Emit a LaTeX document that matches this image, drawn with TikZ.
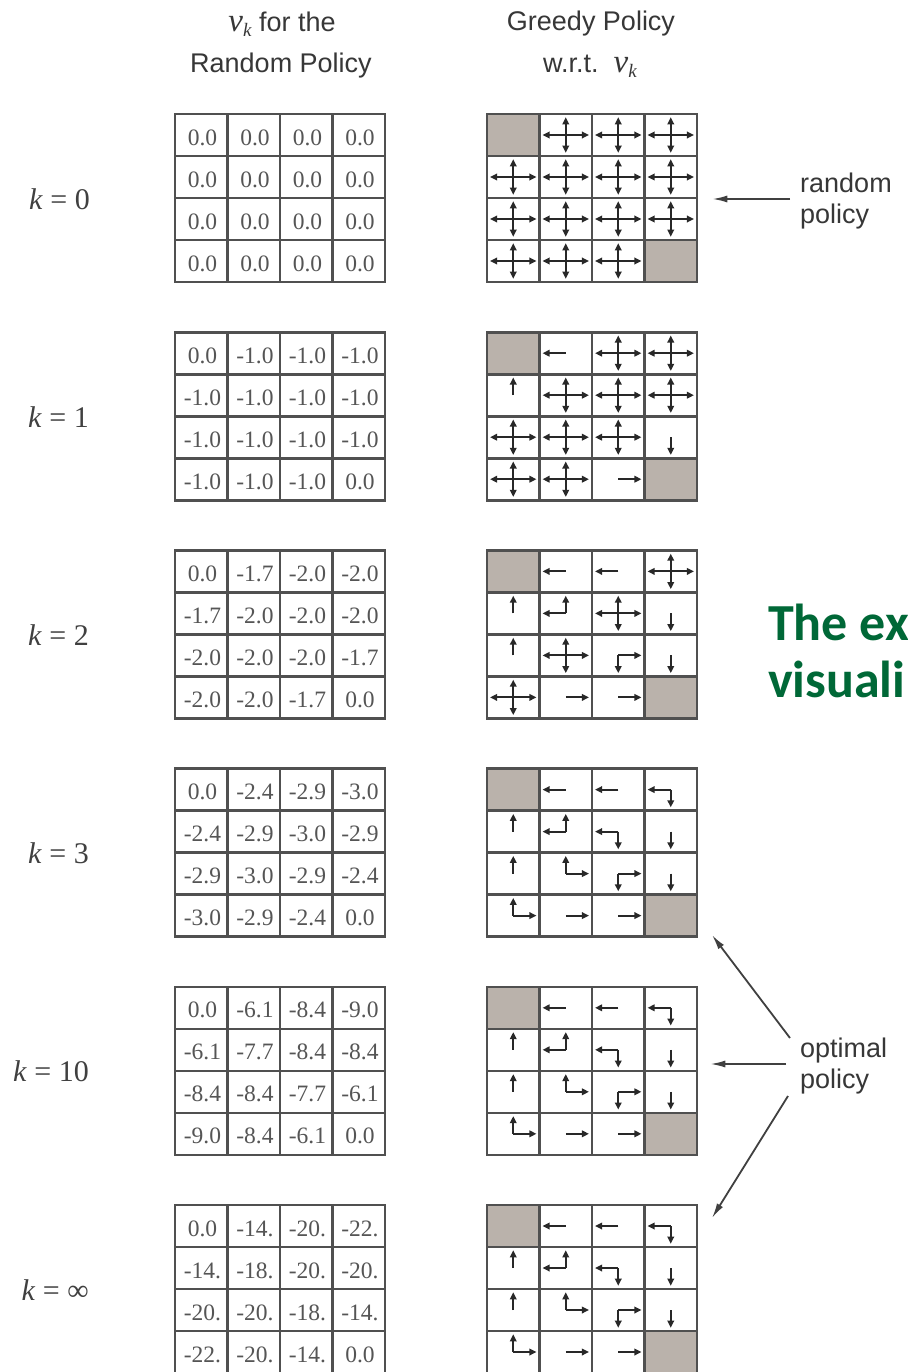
\documentclass[tikz,border=0pt]{standalone}
\usepackage{fontspec}
\setmainfont{Liberation Serif}
\newfontfamily\hvfont{Liberation Sans}
\newfontfamily\grfont{Carlito}
\usetikzlibrary{arrows.meta,calc}

\definecolor{gridc}{RGB}{80,80,80}
\definecolor{shadec}{RGB}{186,178,171}
\definecolor{numc}{RGB}{85,85,85}
\definecolor{txtc}{RGB}{55,55,55}
\definecolor{grnc}{RGB}{0,104,55}
\definecolor{armc}{RGB}{40,40,40}

\def\armsT#1{}
\def\armsl#1{\draw[arm] (#1.center) -- (#1.west);}
\def\armsr#1{\draw[arm] (#1.center) -- (#1.east);}
\def\armsu#1{\draw[arm] (#1.center) -- (#1.north);}
\def\armsd#1{\draw[arm] (#1.center) -- (#1.south);}
\def\armsX#1{\armsl{#1}\armsr{#1}\armsu{#1}\armsd{#1}}
\def\armslu#1{\armsl{#1}\armsu{#1}}
\def\armsld#1{\armsl{#1}\armsd{#1}}
\def\armsur#1{\armsu{#1}\armsr{#1}}
\def\armsrd#1{\armsr{#1}\armsd{#1}}

\def\polA{T,X,X,X,X,X,X,X,X,X,X,X,X,X,X,T}
\def\polB{T,l,X,X,u,X,X,X,X,X,X,d,X,X,r,T}
\def\polC{T,l,l,X,u,lu,X,d,u,X,rd,d,X,r,r,T}
\def\polD{T,l,l,ld,u,lu,ld,d,u,ur,rd,d,ur,r,r,T}

\def\valA{0.0,0.0,0.0,0.0,0.0,0.0,0.0,0.0,0.0,0.0,0.0,0.0,0.0,0.0,0.0,0.0}
\def\valB{0.0,-1.0,-1.0,-1.0,-1.0,-1.0,-1.0,-1.0,-1.0,-1.0,-1.0,-1.0,-1.0,-1.0,-1.0,0.0}
\def\valC{0.0,-1.7,-2.0,-2.0,-1.7,-2.0,-2.0,-2.0,-2.0,-2.0,-2.0,-1.7,-2.0,-2.0,-1.7,0.0}
\def\valD{0.0,-2.4,-2.9,-3.0,-2.4,-2.9,-3.0,-2.9,-2.9,-3.0,-2.9,-2.4,-3.0,-2.9,-2.4,0.0}
\def\valE{0.0,-6.1,-8.4,-9.0,-6.1,-7.7,-8.4,-8.4,-8.4,-8.4,-7.7,-6.1,-9.0,-8.4,-6.1,0.0}
\def\valF{0.0,-14.,-20.,-22.,-14.,-18.,-20.,-20.,-20.,-20.,-18.,-14.,-22.,-20.,-14.,0.0}

\newcommand\vk{{\rmfamily\itshape\fontsize{33}{33}\selectfont v}\raisebox{-5pt}{\rmfamily\itshape\fontsize{19}{19}\selectfont k}}

\tikzset{
  arm/.style={draw=armc, line width=2pt, -{Triangle[length=7pt,width=6.5pt]}},
  pcell/.style={draw=none, inner sep=0pt, minimum width=46pt, minimum height=35pt},
  vcell/.style={inner sep=0pt, font=\fontsize{23.5}{23.5}\selectfont, text=numc},
  gbox/.style={draw=gridc, line width=2.6pt, inner sep=0pt, minimum width=210pt, minimum height=168pt},
  gline/.style={draw=gridc, line width=2.6pt},
  klabel/.style={anchor=east, inner sep=0pt, font=\fontsize{30}{30}\selectfont, text=black!75},
  head/.style={inner sep=0pt, font=\hvfont\fontsize{27}{27}\selectfont, text=txtc},
  side/.style={anchor=west, inner sep=0pt, align=left, font=\hvfont\fontsize{27}{31}\selectfont, text=txtc},
  bigarrow/.style={draw=black!75, line width=1.8pt, -{Latex[length=15pt,width=7pt]}},
  green/.style={anchor=base west, inner sep=0pt, font=\grfont\bfseries\fontsize{52}{52}\selectfont, text=grnc}
}

\begin{document}
\begin{tikzpicture}[x=1pt,y=-1pt]
\useasboundingbox (0,0) rectangle (907,1372);
\fill[white] (0,0) rectangle (907,1372);

% headers
\node[head] (h1) at (282,24) {\vk{} for the};
\node[head] (h2) at (281,66) {Random Policy};
\node[head] (h3) at (591,24) {Greedy Policy};
\node[head] (h4) at (590,66) {w.r.t.\ \ \vk};

% grids
\foreach \g/\P/\V in {0/\polA/\valA, 1/\polB/\valB, 2/\polC/\valC, 3/\polD/\valD, 4/\polD/\valE, 5/\polD/\valF}{
  \pgfmathsetmacro\gtop{114+218.2*\g}
  \edef\Vlist{\V}
  \edef\Plist{\P}
  % value grid
  \node[gbox] (V\g) at (175+105,\gtop+84) {};
  \foreach \j in {1,2,3}{
    \draw[gline] (175+52.5*\j,\gtop) -- ++(0,168);
    \draw[gline] (175,\gtop+42*\j) -- ++(210,0);
  }
  \foreach \val [count=\i from 0] in \Vlist {
    \pgfmathtruncatemacro\rr{\i/4}
    \pgfmathtruncatemacro\cc{\i-4*\rr}
    \node[vcell] (v\g-\rr-\cc) at (175+52.5*\cc+27.5,\gtop+42*\rr+23.5) {\val};
  }
  % policy grid
  \fill[shadec] (487,\gtop) rectangle ++(52.5,42);
  \fill[shadec] (487+157.5,\gtop+126) rectangle ++(52.5,42);
  \node[gbox] (P\g) at (487+105,\gtop+84) {};
  \foreach \j in {1,2,3}{
    \draw[gline] (487+52.5*\j,\gtop) -- ++(0,168);
    \draw[gline] (487,\gtop+42*\j) -- ++(210,0);
  }
  \foreach \code [count=\i from 0] in \Plist {
    \pgfmathtruncatemacro\rr{\i/4}
    \pgfmathtruncatemacro\cc{\i-4*\rr}
    \node[pcell] (p\g-\rr-\cc) at (487+52.5*\cc+26.25,\gtop+42*\rr+21) {};
    \csname arms\code\endcsname{p\g-\rr-\cc}
  }
}

% k labels
\node[klabel] (k0) at (90,199) {\textit{k} = 0};
\node[klabel] (k1) at (89,417) {\textit{k} = 1};
\node[klabel] (k2) at (89,635) {\textit{k} = 2};
\node[klabel] (k3) at (89,853) {\textit{k} = 3};
\node[klabel] (k4) at (89,1071) {\textit{k} = 10};
\node[klabel] (k5) at (89,1290) {\textit{k} = ∞};

% side labels and arrows
\node[side] (rp) at (800,201) {random\\policy};
\coordinate (rpA) at (790,199);
\draw[bigarrow, shorten >=14pt] (rpA) -- (P0.east |- rpA);

\node[side] (op) at (800,1066) {optimal\\policy};
\coordinate (o1s) at (790,1038);
\coordinate (o1e) at (712,935);
\coordinate (o2s) at (786,1064);
\coordinate (o3s) at (788,1096);
\coordinate (o3e) at (712,1218);
\draw[bigarrow] (o1s) -- (o1e);
\draw[bigarrow, shorten >=12pt] (o2s) -- (P4.east |- o2s);
\draw[bigarrow] (o3s) -- (o3e);

% green caption (cut at the right edge)
\begin{scope}
\clip (0,0) rectangle (907,1372);
\node[green] (g1) at (768,640) {The ex};
\node[green] (g2) at (768,697) {visuali};
\end{scope}
\end{tikzpicture}
\end{document}
